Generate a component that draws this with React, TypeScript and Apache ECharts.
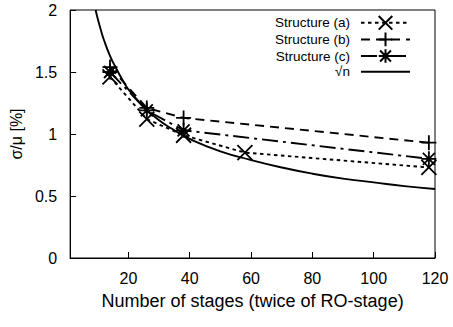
import React, { useEffect, useRef } from "react";
import * as echarts from "echarts";

const xTicks = [20, 40, 60, 80, 100, 120];
const yTicks = [0, 0.5, 1, 1.5, 2];

const stagesA = [14, 26, 38, 58, 118];
const valuesA = [1.46, 1.12, 0.99, 0.85, 0.73];

const stagesB = [14, 26, 38, 118];
const valuesB = [1.54, 1.21, 1.13, 0.93];

const stagesC = [14, 26, 38, 118];
const valuesC = [1.5, 1.19, 1.03, 0.8];

const sqrtX = [9.3, 10, 11, 12, 14, 16, 18, 20, 25, 30, 35, 40, 50, 60, 70, 80, 90, 100, 110, 120];
const sqrtY = [2.0, 1.93, 1.84, 1.76, 1.63, 1.53, 1.44, 1.36, 1.22, 1.11, 1.03, 0.96, 0.86, 0.79, 0.73, 0.68, 0.64, 0.61, 0.58, 0.557];

const names = ["Structure (a)", "Structure (b)", "Structure (c)", "\u221An"];

const pair = (xs: number[], ys: number[]) => xs.map((x, i) => [x, ys[i]]);

const SYM_X = "path://M0,0L10,10M0,10L10,0";
const SYM_PLUS = "path://M5,0L5,10M0,5L10,5";
const SYM_STAR = "path://M1,1L9,9M1,9L9,1M5,0L5,10M0,5L10,5";

const FONT = "'Liberation Sans', Arial, sans-serif";

export default function App() {
  const ref = useRef<HTMLDivElement>(null);
  useEffect(() => {
    if (!ref.current) return;
    const chart = echarts.init(ref.current, undefined, { renderer: "svg" });
    const sym = (path: string) => ({
      symbol: path,
      symbolSize: 15,
      showSymbol: true,
      itemStyle: { color: "#000", borderColor: "#000", borderWidth: 1.8 },
    });
    chart.setOption({
      animation: false,
      textStyle: { fontFamily: FONT },
      grid: {
        left: 66,
        right: 18,
        top: 10,
        bottom: 69,
        show: true,
        borderColor: "#000",
        borderWidth: 1,
      },
      legend: {
        orient: "vertical",
        align: "right",
        right: 37,
        top: 10,
        itemWidth: 49,
        itemHeight: 17,
        itemGap: 1,
        textStyle: { fontFamily: FONT, fontSize: 13.5, color: "#000", padding: [0, 6, 0, 0] },
        data: [
          names[0],
          names[1],
          names[2],
          { name: names[3], itemStyle: { opacity: 0 } },
        ],
      },
      xAxis: {
        type: "value",
        min: 1,
        max: 120,
        name: "Number of stages (twice of RO-stage)",
        nameLocation: "middle",
        nameGap: 34,
        nameTextStyle: { fontFamily: FONT, fontSize: 18, color: "#000" },
        axisLine: { show: true, lineStyle: { color: "#000" } },
        axisTick: { show: true, inside: true, length: 6, customValues: xTicks, lineStyle: { color: "#000" } },
        axisLabel: { customValues: xTicks, margin: 12, fontSize: 16, color: "#000", fontFamily: FONT },
        splitLine: { show: false },
      },
      yAxis: {
        type: "value",
        min: 0,
        max: 2,
        interval: 0.5,
        name: "\u03C3/\u03BC [%]",
        nameLocation: "middle",
        nameGap: 41,
        nameTextStyle: { fontFamily: FONT, fontSize: 16, color: "#000" },
        axisLine: { show: true, lineStyle: { color: "#000" } },
        axisTick: { show: true, inside: true, length: 6, customValues: yTicks, lineStyle: { color: "#000" } },
        axisLabel: { customValues: yTicks, margin: 13, fontSize: 16, color: "#000", fontFamily: FONT },
        splitLine: { show: false },
      },
      series: [
        {
          name: names[0],
          type: "line",
          data: pair(stagesA, valuesA),
          ...sym(SYM_X),
          lineStyle: { color: "#000", width: 1.9, type: [3.5, 3.5] },
        },
        {
          name: names[1],
          type: "line",
          data: pair(stagesB, valuesB),
          ...sym(SYM_PLUS),
          lineStyle: { color: "#000", width: 1.9, type: [9, 6] },
        },
        {
          name: names[2],
          type: "line",
          data: pair(stagesC, valuesC),
          ...sym(SYM_STAR),
          lineStyle: { color: "#000", width: 1.9, type: [16, 5, 3, 5] },
        },
        {
          name: names[3],
          type: "line",
          data: pair(sqrtX, sqrtY),
          smooth: true,
          symbol: "none",
          showSymbol: false,
          itemStyle: { color: "#000" },
          lineStyle: { color: "#000", width: 1.9, type: "solid" },
        },
      ],
    });
    return () => chart.dispose();
  }, []);
  return (
    <div
      ref={ref}
      style={{ position: "absolute", left: 0, top: 0, width: 453, height: 327 }}
    />
  );
}
